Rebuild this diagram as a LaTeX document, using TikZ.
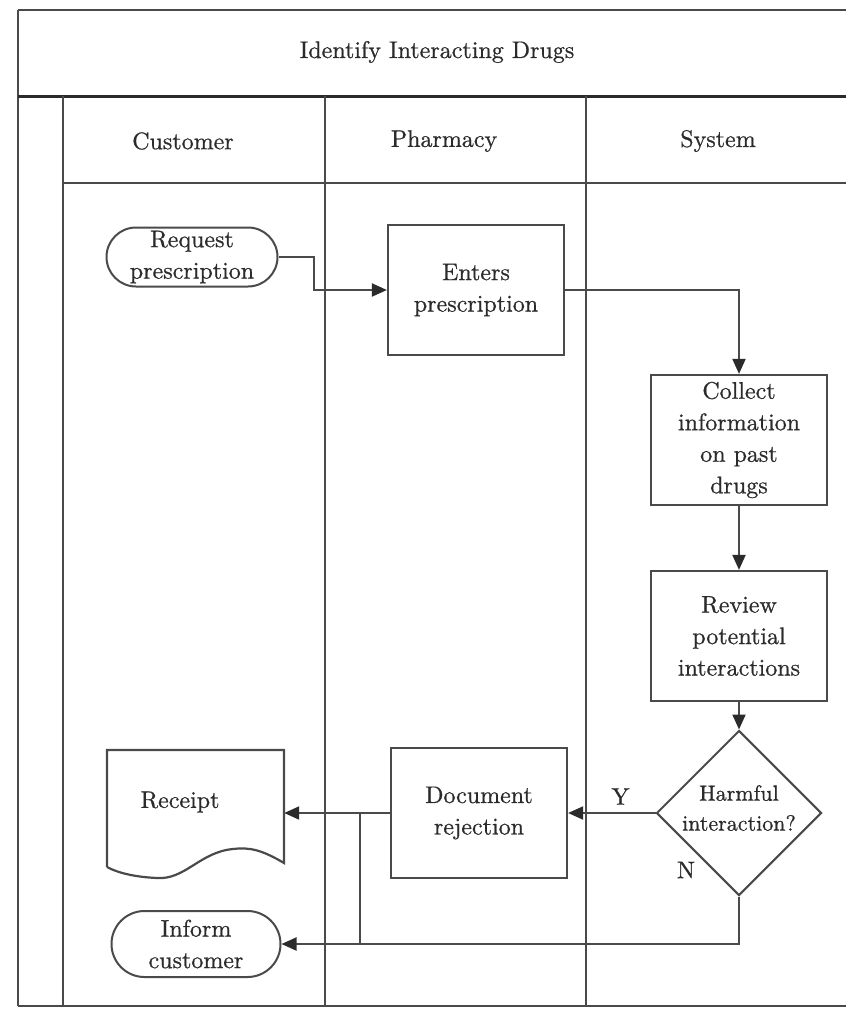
\documentclass[tikz,border=0pt]{standalone}
\usepackage{fontspec}
\usetikzlibrary{arrows.meta,shapes.misc,shapes.geometric}
% slightly heavier Latin Modern for the chart labels
\newfontfamily\chartfont{lmroman10-regular.otf}[FakeBold=0.7]
\definecolor{ink}{HTML}{2B2B2B}
\definecolor{rule}{HTML}{4A4A4A}
\begin{document}
\begin{tikzpicture}[x=1pt,y=-1pt,
  every node/.style={font=\chartfont\fontsize{24}{31.5}\selectfont, text=ink, align=center},
  frameline/.style={draw=rule, line width=2pt},
  titlerule/.style={draw=ink, line width=3pt},
  procbox/.style={draw=rule, line width=2.2pt, rectangle, minimum width=176pt, minimum height=130pt, inner sep=2pt},
  terminal/.style={draw=rule, line width=2pt, rounded rectangle, minimum width=175pt, inner sep=2pt},
  decision/.style={draw=rule, line width=2pt, diamond, minimum width=165pt, minimum height=165pt, inner sep=0pt},
  link/.style={draw=rule, line width=2pt},
  flow/.style={link, -{Triangle[length=15pt,width=13pt,color=ink]}},
  lanehead/.style={font=\chartfont\fontsize{24}{28}\selectfont}
]
\useasboundingbox (0,0) rectangle (846,1009);

% outer frame and swimlane grid
\draw[frameline] (18,10) -- (846,10);
\draw[frameline] (18,10) -- (18,1006);
\draw[frameline] (18,1006) -- (846,1006);
\draw[titlerule] (18,96) -- (846,96);
\draw[frameline] (63,96) -- (63,1006);
\draw[frameline] (325,96) -- (325,1006);
\draw[frameline] (586,96) -- (586,1006);
\draw[frameline] (63,183) -- (846,183);

% title and lane headings
\node (title) at (437,52) {Identify Interacting Drugs};
\node[lanehead] (hcust) at (183,141) {Customer};
\node[lanehead] (hpharm) at (444,141) {Pharmacy};
\node[lanehead] (hsys) at (718,141) {System};

% process steps
\node[terminal, minimum height=59pt] (req) at (192,257) {Request\\prescription};
\node[procbox] (enters) at (476,290) {Enters\\prescription};
\node[procbox] (collect) at (739,440) {Collect\\information\\on past\\drugs};
\node[procbox] (review) at (739,636) {Review\\potential\\interactions};
\node[decision] (harm) at (739,813) {};
\node[font=\chartfont\fontsize{22}{30}\selectfont] (harmtext) at ([yshift=5pt]harm.center) {Harmful\\interaction?};
\node[procbox] (docrej) at (479,813) {Document\\rejection};
\node[terminal, minimum height=66pt, minimum width=173pt] (inform) at (196,944) {Inform\\customer};

% document symbol for the receipt
\node[minimum width=177pt, minimum height=130pt, inner sep=0pt] (receipt) at (195.5,813) {};
\draw[link, line width=2.2pt] (107,867) -- (107,750) -- (284,750) -- (284,863)
  .. controls (262,850) and (250,847) .. (233,849)
  .. controls (200,852) and (185,880) .. (157,878)
  .. controls (135,877) and (118,873) .. (107,867);
\node (receipttext) at (180,802) {Receipt};

% connectors
\draw[flow] (req.east) -- ++(35,0) |- (enters.west);
\draw[flow] (enters.east) -| (collect.north);
\draw[flow] (collect.south) -- (review.north);
\draw[flow] (review.south) -- (harm.north);
\draw[flow] (harm.west) -- node[above=4pt, pos=0.4] (ylabel) {Y} (docrej.east);
\draw[flow] (docrej.west) -- (receipt.east);
\draw[flow] (harm.south) |- (inform.east);
\coordinate (split) at (360,813);
\draw[link] (split) -- (split |- inform.east);
\node (nlabel) at (686,870) {N};
\end{tikzpicture}
\end{document}
